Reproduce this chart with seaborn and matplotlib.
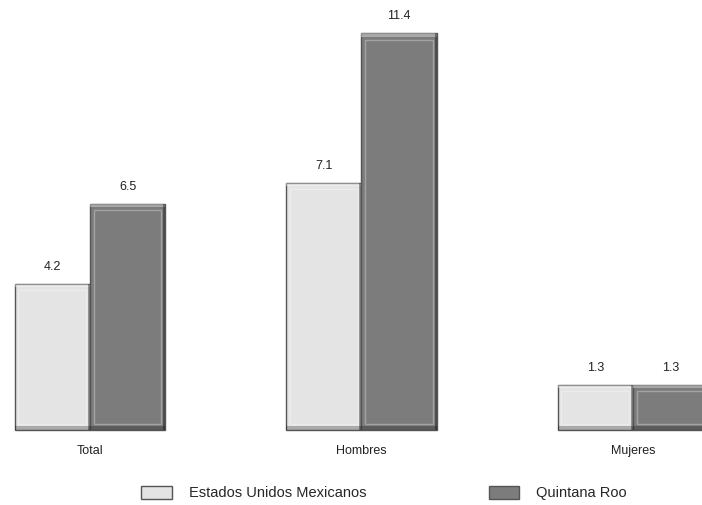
import matplotlib
matplotlib.use("Agg")
import matplotlib.pyplot as plt
import seaborn as sns
import pandas as pd
from matplotlib.patches import Rectangle, Patch

categories = ["Total", "Hombres", "Mujeres"]
series_names = ["Estados Unidos Mexicanos", "Quintana Roo"]
emx_values = [4.2, 7.1, 1.3]
qroo_values = [6.5, 11.4, 1.3]
value_labels_emx = ["4.2", "7.1", "1.3"]
value_labels_qroo = ["6.5", "11.4", "1.3"]

colors = ["#e4e4e4", "#7c7c7c"]

df = pd.DataFrame({
    "cat": categories * 2,
    "serie": [series_names[0]] * 3 + [series_names[1]] * 3,
    "val": emx_values + qroo_values,
})

sns.set_style("white")
plt.rcParams['font.family'] = ['Liberation Sans', 'DejaVu Sans']

fig = plt.figure(figsize=(7.02, 5.05), dpi=100)
ax = fig.add_axes([0, 0, 1, 1])
sns.barplot(data=df, x="cat", y="val", hue="serie", order=categories,
            hue_order=series_names, palette=colors, width=0.555,
            edgecolor="#555555", linewidth=1.0, legend=False, ax=ax)

ax.set_xlim(-0.331, 2.254)
ax.set_ylim(-2.16, 12.36)
ax.axis("off")

# bevel decoration derived from bars
for p in list(ax.patches):
    x, y = p.get_x(), p.get_y()
    w, h = p.get_width(), p.get_height()
    dx = w * 0.05
    dy = 0.18
    ax.add_patch(Rectangle((x + dx, y + dy), w - 2 * dx, h - 2 * dy,
                           fill=False, edgecolor=(1, 1, 1, 0.3), lw=1.0, zorder=3))
    ax.add_patch(Rectangle((x, y + h - dy * 0.5), w, dy * 0.5,
                           facecolor=(1, 1, 1, 0.35), edgecolor="none", zorder=3))
    ax.add_patch(Rectangle((x + w - dx * 0.6, y), dx * 0.6, h,
                           facecolor=(0, 0, 0, 0.35), edgecolor="none", zorder=3))
    ax.add_patch(Rectangle((x, y), w, dy * 0.6,
                           facecolor=(0, 0, 0, 0.25), edgecolor="none", zorder=3))

# value labels
cont_emx, cont_qroo = ax.containers[0], ax.containers[1]
ax.bar_label(cont_emx, labels=value_labels_emx, padding=8, fontsize=9, color="#222222")
ax.bar_label(cont_qroo, labels=value_labels_qroo, padding=8, fontsize=9, color="#222222")

# category labels
for i, c in enumerate(categories):
    ax.text(i, -0.6, c, ha="center", va="center", fontsize=9, color="#222222")

handles = [Patch(facecolor=colors[0], edgecolor="#555555"),
           Patch(facecolor=colors[1], edgecolor="#555555")]
fig.legend(handles, series_names, loc="center", bbox_to_anchor=(0.547, 0.024),
           ncol=2, frameon=False, fontsize=10.5, columnspacing=8.4,
           handlelength=2.1, handleheight=1.0, handletextpad=1.15)

fig.savefig("out.png", dpi=100)
